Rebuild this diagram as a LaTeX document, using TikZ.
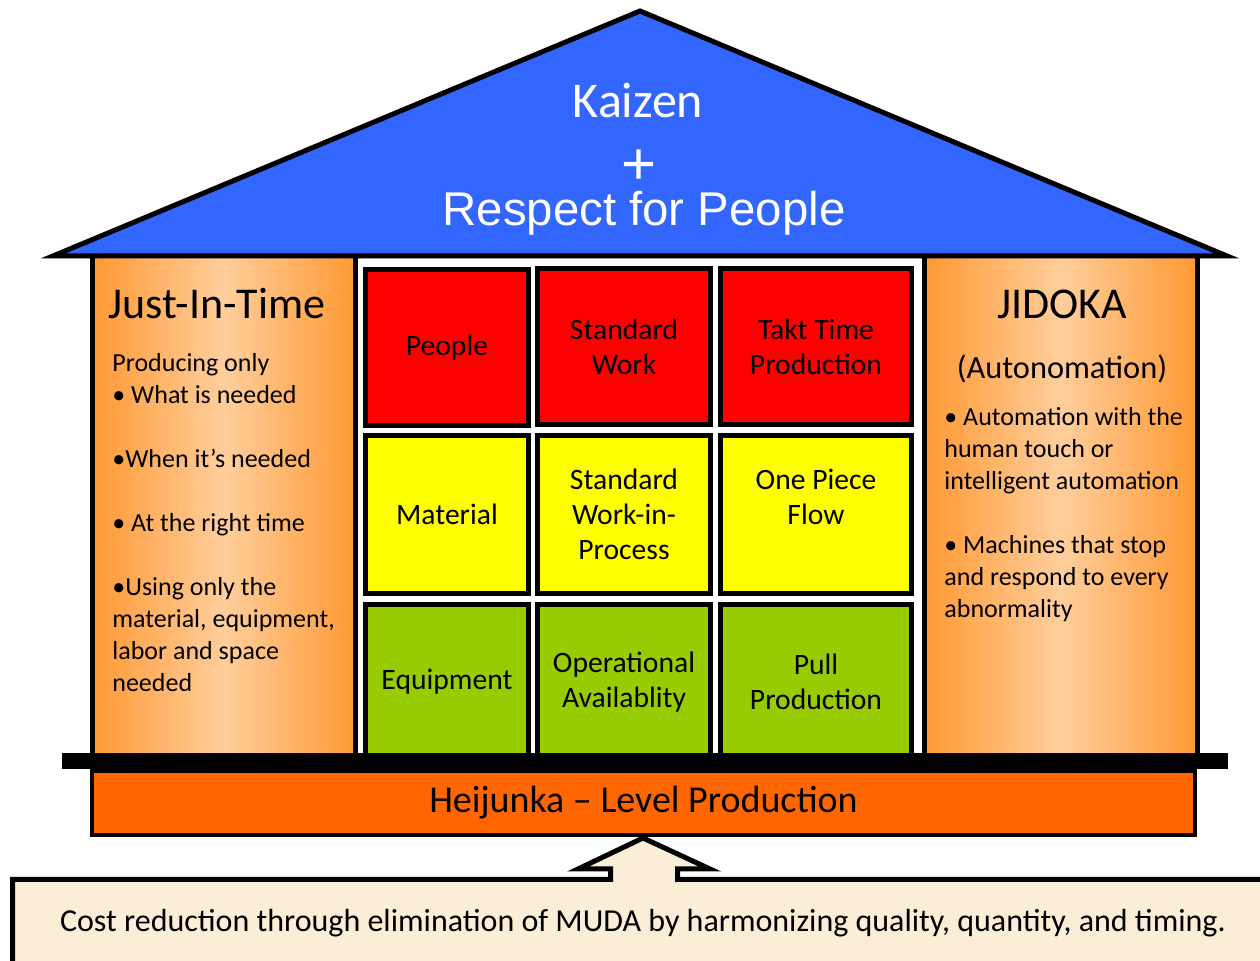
\documentclass[tikz,border=0pt]{standalone}
\usepackage{fontspec}
\setmainfont{Carlito}
\newfontfamily\arialfont{Liberation Sans}
\usepackage{xcolor}
\definecolor{roofblue}{RGB}{51,102,255}
\definecolor{cellred}{RGB}{255,0,0}
\definecolor{cellyellow}{RGB}{255,255,0}
\definecolor{cellgreen}{RGB}{153,204,0}
\definecolor{pillardark}{RGB}{255,153,51}
\definecolor{pillarlight}{RGB}{255,206,156}
\definecolor{baseorange}{RGB}{255,102,0}
\definecolor{parchment}{RGB}{250,238,214}

\begin{document}
\begin{tikzpicture}[x=0.5pt,y=-0.5pt,
  cell/.style={draw=black,line width=2.5pt,align=center,inner sep=0pt,font=\fontsize{14.8}{17.5}\selectfont},
  colA/.style={minimum width=81.5pt},
  colB/.style={minimum width=86.5pt},
  colC/.style={minimum width=95.5pt},
  pillar/.style={draw=black,line width=2.5pt,left color=pillardark,right color=pillardark,middle color=pillarlight},
  pillartitle/.style={anchor=base,inner sep=0pt,font=\fontsize{22}{26}\selectfont},
  pillartext/.style={anchor=north west,align=left,inner sep=0pt,font=\fontsize{13}{16}\selectfont},
  rooftext/.style={anchor=base,inner sep=0pt,text=white}]
\useasboundingbox (0,0) rectangle (1260,961);
\clip (0,0) rectangle (1260,961);

% Pillars
\draw[pillar] (92.5,256) rectangle (355.5,757);
\draw[pillar] (924.5,256) rectangle (1197.5,757);

% Roof
\draw[line width=2.5pt,fill=roofblue] (640,11) -- (1227,256) -- (53,256) -- cycle;
\node[rooftext,font=\fontsize{25}{30}\selectfont] (kaizen) at (638,118) {Kaizen};
\node[rooftext,font=\arialfont\fontsize{30}{34}\selectfont] (plus) at (639,185) {+};
\node[rooftext,font=\arialfont\fontsize{23.7}{28}\selectfont] (respect) at (644,226) {Respect for People};

% Just-In-Time pillar
\node[pillartitle] (jit) at (217,319) {Just-In-Time};
\node[pillartext] (jittext) at (112,353) {Producing only\\
  • What is needed\\[16pt]
  •When it’s needed\\[16pt]
  • At the right time\\[16pt]
  •Using only the\\
  material, equipment,\\
  labor and space\\
  needed};

% Jidoka pillar
\node[pillartitle] (jidoka) at (1062,319) {JIDOKA};
\node[anchor=base,inner sep=0pt,font=\fontsize{16.2}{20}\selectfont] (autonomation) at (1062,379) {(Autonomation)};
\node[pillartext] (jidokatext) at (944,407) {• Automation with the\\
  human touch or\\
  intelligent automation\\[16pt]
  • Machines that stop\\
  and respond to every\\
  abnormality};

% Row 1 - red
\node[cell,colA,fill=cellred,minimum height=78pt] (people) at (447,348) {People};
\node[cell,colB,fill=cellred,minimum height=78pt] (stdwork) at (624,346.5) {Standard\\Work};
\node[cell,colC,fill=cellred,minimum height=78pt] (takt) at (816,346.5) {Takt Time\\Production};

% Row 2 - yellow
\node[cell,colA,fill=cellyellow,minimum height=79pt] (material) at (447,514.5) {Material};
\node[cell,colB,fill=cellyellow,minimum height=79pt] (wip) at (624,514.5) {Standard\\Work-in-\\Process};
\node[cell,colC,fill=cellyellow,minimum height=79pt] (flow) at (816,514.5) {One Piece\\Flow\\\mbox{}};

% Row 3 - green
\node[cell,colA,fill=cellgreen,minimum height=77.75pt] (equipment) at (447,682) {Equipment};
\node[cell,colB,fill=cellgreen,minimum height=77.75pt] (availability) at (624,682) {Operational\\Availablity};
\node[cell,colC,fill=cellgreen,minimum height=77.75pt] (pull) at (816,682) {Pull\\Production};

% Floor bar and Heijunka base
\fill[black] (62,753) rectangle (1228,769);
\node[draw=black,line width=2pt,fill=baseorange,minimum width=551.5pt,minimum height=32pt,inner sep=0pt,
  font=\fontsize{19}{23}\selectfont] (heijunka) at (643.5,803) {Heijunka -- Level Production};

% Foundation with arrow
\draw[line width=2.5pt,fill=parchment] (12.5,980) -- (12.5,879.5) -- (610.5,879.5) -- (610.5,869)
  -- (578,869) -- (643,838) -- (710,869) -- (677.5,869) -- (677.5,879.5) -- (1280,879.5)
  -- (1280,980) -- cycle;
\node[anchor=base,font=\fontsize{16}{19}\selectfont] (muda) at (643,932)
  {Cost reduction through elimination of MUDA by harmonizing quality, quantity, and timing.};

\end{tikzpicture}
\end{document}
